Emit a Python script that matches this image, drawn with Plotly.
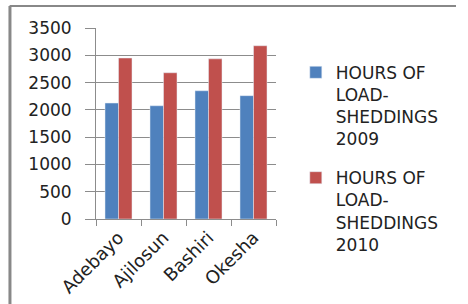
import plotly.graph_objects as go

categories = ["Adebayo", "Ajilosun", "Bashiri", "Okesha"]
hours_2009 = [2125, 2075, 2350, 2260]
hours_2010 = [2950, 2680, 2935, 3175]
series_names = ["HOURS OF<br>LOAD-<br>SHEDDINGS<br>2009", "HOURS OF<br>LOAD-<br>SHEDDINGS<br>2010"]
y_ticks = [0, 500, 1000, 1500, 2000, 2500, 3000, 3500]

font = "DejaVu Sans"
fig = go.Figure()
fig.add_trace(go.Bar(x=categories, y=hours_2009, name=series_names[0], marker_color="#4F81BD",
                     legendgroup="a"))
fig.add_trace(go.Bar(x=categories, y=hours_2010, name=series_names[1], marker_color="#C0504D",
                     legendgroup="b"))

fig.update_layout(
    width=468, height=304,
    margin=dict(l=96, r=192, t=28, b=85, autoexpand=False),
    paper_bgcolor="white", plot_bgcolor="white",
    barmode="group", bargap=0.4, bargroupgap=0,
    font=dict(family=font, size=16, color="#222"),
    showlegend=True,
    legend=dict(x=1.11, y=0.86, xanchor="left", yanchor="top", valign="top",
                traceorder="grouped", maxheight=290,
                font=dict(size=17), tracegroupgap=14, itemwidth=30),
    shapes=[
        dict(type="line", xref="paper", yref="paper", x0=-0.48, x1=2.0, y0=1.115, y1=1.115,
             line=dict(color="#888", width=2)),
        dict(type="line", xref="paper", yref="paper", x0=-0.478, x1=-0.478, y0=1.115, y1=-0.45,
             line=dict(color="#888", width=3)),
    ],
)
fig.update_yaxes(range=[0, 3500], tickvals=y_ticks, showgrid=True, gridcolor="#8c8c8c",
                 showline=True, linecolor="#8c8c8c", ticks="outside", ticklen=10,
                 tickcolor="#8c8c8c", tickfont=dict(size=17), zeroline=False, automargin=False,
                 ticklabelstandoff=10)
fig.update_xaxes(showline=True, linecolor="#8c8c8c", ticks="outside", ticklen=6,
                 tickcolor="#8c8c8c", tickson="boundaries", tickangle=-45,
                 tickfont=dict(size=18), automargin=False)

fig.write_html("out.html", config={"displayModeBar": False},
               post_script="document.body.style.margin='0';document.body.style.overflow='hidden';")
